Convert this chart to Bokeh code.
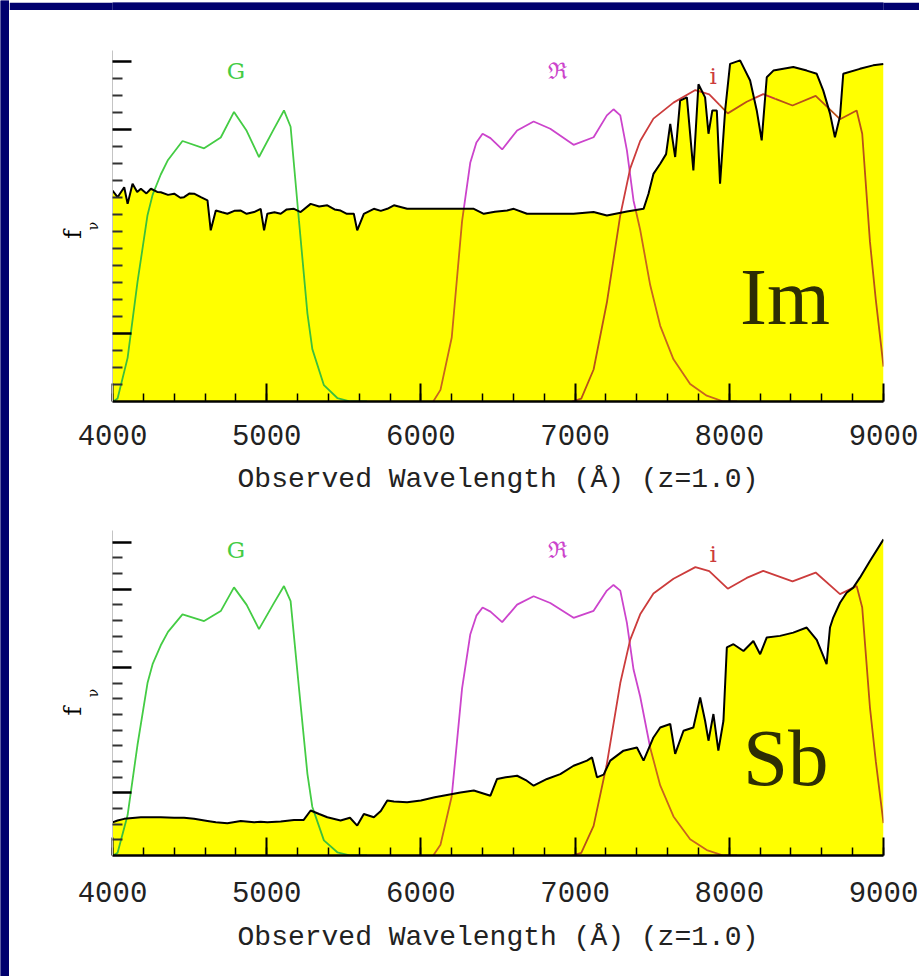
import numpy as np
from bokeh.plotting import figure
from bokeh.models import Range1d, FixedTicker, CustomJSTickFormatter, LinearAxis
from bokeh.layouts import row, column
from bokeh.core.properties import value
from bokeh.embed import file_html
from bokeh.resources import INLINE

# ---------------- data ----------------
X_TICKS = [4000, 5000, 6000, 7000, 8000, 9000]
X_MINOR = list(range(4000, 9001, 200))
X_TITLE = "Observed Wavelength (Å) (z=1.0)"

# filter transmission curves (relative units)
G_LAM = [4005, 4033, 4098, 4162, 4227, 4260, 4313, 4360, 4454, 4594, 4702, 4788, 4870, 4950, 5040, 5112, 5155, 5209, 5264, 5296, 5371, 5458, 5544, 5650]
G_T = [0.0, 0.01, 0.15, 0.41, 0.64, 0.71, 0.78, 0.83, 0.895, 0.87, 0.907, 0.995, 0.93, 0.84, 0.93, 1.0, 0.944, 0.623, 0.303, 0.18, 0.056, 0.012, 0.0, 0.0]

R_LAM = [6080, 6127, 6200, 6267, 6320, 6360, 6400, 6451, 6527, 6624, 6731, 6839, 6990, 7120, 7206, 7249, 7293, 7336, 7379, 7422, 7487, 7552, 7638, 7746, 7854, 7962, 8050]
R_T = [0.0, 0.04, 0.22, 0.62, 0.82, 0.89, 0.92, 0.905, 0.866, 0.931, 0.962, 0.937, 0.882, 0.908, 0.983, 1.004, 0.983, 0.863, 0.69, 0.59, 0.40, 0.26, 0.145, 0.06, 0.02, 0.0, 0.0]

I_LAM = [6980, 7040, 7120, 7206, 7293, 7357, 7422, 7508, 7638, 7780, 7870, 7990, 8113, 8220, 8410, 8560, 8718, 8826, 8862, 8912, 8950, 9000]
I_T = [0.0, 0.01, 0.11, 0.34, 0.64, 0.80, 0.895, 0.972, 1.027, 1.07, 1.055, 0.99, 1.03, 1.056, 1.017, 1.05, 0.97, 1.0, 0.92, 0.55, 0.35, 0.12]

# Im galaxy spectrum (top panel)
IM_LAM = [4000, 4033, 4076, 4098, 4130, 4160, 4184, 4220, 4249, 4290, 4313, 4360, 4400, 4440, 4464, 4500, 4529, 4573, 4616, 4637, 4670, 4710, 4745, 4790, 4832, 4870, 4918, 4961, 4983, 5004, 5050, 5091, 5130, 5177, 5220, 5285, 5340, 5393, 5440, 5479, 5520, 5565, 5587, 5630, 5695, 5740, 5782, 5825, 5911, 6000, 6127, 6343, 6408, 6480, 6559, 6602, 6688, 6850, 6990, 7120, 7206, 7336, 7444, 7476, 7508, 7552, 7590, 7617, 7649, 7681, 7725, 7767, 7800, 7843, 7865, 7890, 7919, 7940, 7973, 8005, 8070, 8135, 8178, 8210, 8243, 8286, 8415, 8502, 8567, 8609, 8653, 8685, 8718, 8739, 8847, 8933, 9000]
IM_F = [0.725, 0.702, 0.736, 0.679, 0.748, 0.72, 0.731, 0.715, 0.731, 0.72, 0.719, 0.71, 0.714, 0.70, 0.702, 0.715, 0.714, 0.702, 0.691, 0.588, 0.656, 0.65, 0.645, 0.655, 0.656, 0.645, 0.651, 0.662, 0.588, 0.645, 0.65, 0.645, 0.66, 0.662, 0.651, 0.679, 0.67, 0.674, 0.66, 0.656, 0.645, 0.645, 0.588, 0.645, 0.662, 0.655, 0.662, 0.674, 0.662, 0.662, 0.662, 0.662, 0.645, 0.652, 0.656, 0.662, 0.645, 0.645, 0.645, 0.651, 0.639, 0.653, 0.662, 0.714, 0.782, 0.817, 0.85, 0.954, 0.84, 1.034, 1.045, 0.794, 1.09, 1.045, 0.92, 1.0, 1.0, 0.748, 1.0, 1.16, 1.172, 1.103, 1.0, 0.897, 1.114, 1.137, 1.149, 1.137, 1.126, 1.069, 0.99, 0.908, 0.98, 1.126, 1.143, 1.155, 1.16]

# Sb galaxy spectrum (bottom panel)
SB_LAM = [4000, 4033, 4076, 4184, 4313, 4400, 4464, 4529, 4616, 4670, 4745, 4832, 4918, 4961, 5004, 5091, 5177, 5240, 5285, 5340, 5393, 5479, 5540, 5587, 5630, 5695, 5740, 5782, 5825, 5911, 6000, 6090, 6257, 6343, 6451, 6494, 6550, 6624, 6680, 6731, 6818, 6904, 6990, 7077, 7110, 7142, 7185, 7228, 7314, 7401, 7444, 7508, 7552, 7617, 7649, 7703, 7767, 7811, 7843, 7865, 7897, 7929, 7962, 7984, 8027, 8092, 8156, 8200, 8243, 8329, 8415, 8502, 8567, 8631, 8653, 8674, 8718, 8761, 8804, 8847, 8912, 9000]
SB_F = [0.123, 0.130, 0.136, 0.142, 0.142, 0.140, 0.14, 0.136, 0.128, 0.123, 0.120, 0.128, 0.123, 0.125, 0.123, 0.126, 0.132, 0.132, 0.167, 0.154, 0.142, 0.13, 0.14, 0.111, 0.154, 0.142, 0.165, 0.204, 0.2, 0.198, 0.204, 0.216, 0.234, 0.241, 0.222, 0.284, 0.29, 0.296, 0.28, 0.259, 0.284, 0.302, 0.333, 0.352, 0.364, 0.29, 0.30, 0.352, 0.389, 0.401, 0.352, 0.438, 0.475, 0.488, 0.377, 0.463, 0.475, 0.586, 0.5, 0.426, 0.525, 0.389, 0.5, 0.772, 0.784, 0.759, 0.796, 0.747, 0.809, 0.815, 0.827, 0.846, 0.8, 0.71, 0.846, 0.883, 0.938, 0.975, 0.994, 1.031, 1.093, 1.173]

# left-axis tick marks (relative flux units)
Y1_MAJOR = [0.234, 0.935, 1.169]
Y1_MINOR = [0.058, 0.117, 0.175, 0.292, 0.351, 0.409, 0.468, 0.526, 0.584, 0.643, 0.701, 0.760, 0.818, 0.877, 0.994, 1.052, 1.110]
Y2_MAJOR = [0.233, 0.698, 0.988, 1.163]
Y2_MINOR = [0.058, 0.116, 0.174, 0.291, 0.349, 0.407, 0.465, 0.523, 0.581, 0.640, 0.756, 0.814, 0.872, 0.930, 1.047, 1.105]

FILTER_LABELS = ["G", "ℜ", "i"]
FILTER_LABEL_LAM = [4800, 6891, 7895]
FILTER_LABEL_Y = [1.135, 1.135, 1.12]

NAVY = "#00006e"
YELLOW = "#ffff00"
COLORS_OVER = ["#44cc44", "#cc44cc", "#cc3c3c"]
COLORS_UNDER = ["#3cbf3c", "#c8641e", "#b8501a"]


def split_runs(flam, ft, slam, sf):
    flam = np.asarray(flam, float)
    ft = np.asarray(ft, float)
    d = ft - np.interp(flam, slam, sf)
    px, py, pd = [flam[0]], [ft[0]], [d[0]]
    for i in range(len(flam) - 1):
        if d[i] * d[i + 1] < 0:
            t = d[i] / (d[i] - d[i + 1])
            px.append(flam[i] + t * (flam[i + 1] - flam[i]))
            py.append(ft[i] + t * (ft[i + 1] - ft[i]))
            pd.append(0.0)
        px.append(flam[i + 1]); py.append(ft[i + 1]); pd.append(d[i + 1])
    runs = {True: ([], []), False: ([], [])}
    cur = None
    rx, ry = [], []
    for j in range(len(px) - 1):
        state = 0.5 * (pd[j] + pd[j + 1]) <= 0
        if state != cur:
            if rx:
                runs[cur][0].append(rx); runs[cur][1].append(ry)
            rx, ry = [px[j]], [py[j]]
            cur = state
        rx.append(px[j + 1]); ry.append(py[j + 1])
    if rx:
        runs[cur][0].append(rx); runs[cur][1].append(ry)
    return runs


def bar(width, height):
    b = figure(width=width, height=height, min_border=0, toolbar_location=None,
               output_backend="svg", x_axis_location=None, y_axis_location=None,
               x_range=Range1d(0, 1), y_range=Range1d(0, 1))
    b.outline_line_color = None
    b.grid.visible = False
    b.background_fill_color = NAVY
    b.border_fill_color = NAVY
    b.quad(left=[0], right=[1], bottom=[0], top=[1], fill_color=NAVY, line_color=None)
    return b


def panel(height, top, bottom, slam, sflux, ymaj, ymin, name, name_xy, f_text, lab_standoff, title_standoff):
    p = figure(width=910, height=height, x_range=Range1d(4000, 9000), y_range=Range1d(0, 1.206),
               min_border_left=103, min_border_right=36, min_border_top=top, min_border_bottom=bottom,
               toolbar_location=None, output_backend="svg")
    p.outline_line_color = None
    p.grid.visible = False
    p.background_fill_color = "white"
    p.border_fill_color = "white"

    p.varea(x=slam, y1=0, y2=sflux, fill_color=YELLOW)

    filters = [(G_LAM, G_T), (R_LAM, R_T), (I_LAM, I_T)]
    for k, (fl, ft) in enumerate(filters):
        runs = split_runs(fl, ft, slam, sflux)
        if runs[False][0]:
            p.multi_line(xs=runs[False][0], ys=runs[False][1], line_color=COLORS_OVER[k], line_width=1.8)
        if runs[True][0]:
            p.multi_line(xs=runs[True][0], ys=runs[True][1], line_color=COLORS_UNDER[k], line_width=1.8)

    p.line(slam, sflux, line_color="black", line_width=2)

    p.text(x=FILTER_LABEL_LAM, y=FILTER_LABEL_Y, text=FILTER_LABELS, text_color=COLORS_OVER,
           text_font=value("DejaVu Serif"), text_font_size="23px", text_align="center",
           text_baseline="middle")

    p.text(x=[name_xy[0]], y=[name_xy[1]], text=[name], text_font=value("Liberation Serif"),
           text_font_size="81px", text_color="#2e2e04", text_align="left", text_baseline="alphabetic")

    xa = p.xaxis[0]
    xa.ticker = FixedTicker(ticks=X_TICKS, minor_ticks=X_MINOR)
    xa.axis_line_width = 2.5
    xa.axis_line_color = "black"
    xa.major_tick_in = 18
    xa.major_tick_out = 0
    xa.minor_tick_in = 8
    xa.minor_tick_out = 0
    xa.major_tick_line_width = 2
    xa.minor_tick_line_width = 1.5
    xa.major_label_text_font = "Liberation Mono"
    xa.major_label_text_font_size = "29px"
    xa.major_label_text_color = "#222222"
    xa.major_label_standoff = lab_standoff
    xa.axis_label = X_TITLE
    xa.axis_label_text_font = "Liberation Mono"
    xa.axis_label_text_font_size = "28px"
    xa.axis_label_text_font_style = "normal"
    xa.axis_label_text_color = "#222222"
    xa.axis_label_standoff = title_standoff

    ya = p.yaxis[0]
    ya.ticker = FixedTicker(ticks=ymaj, minor_ticks=ymin)
    ya.formatter = CustomJSTickFormatter(code="return ''")
    ya.axis_line_color = "#c4c4c4"
    ya.axis_line_width = 1
    ya.major_tick_in = 19
    ya.major_tick_out = 0
    ya.minor_tick_in = 10
    ya.minor_tick_out = 0
    ya.major_tick_line_width = 2.5
    ya.minor_tick_line_width = 2
    ya.major_tick_line_color = "black"
    ya.minor_tick_line_color = "#333333"
    ya.major_label_standoff = 0
    ya.major_label_text_font_size = "1px"
    ya.axis_label = "ν"
    ya.axis_label_text_font = "DejaVu Serif"
    ya.axis_label_text_font_size = "14px"
    ya.axis_label_text_font_style = "normal"
    ya.axis_label_text_color = "black"
    ya.axis_label_standoff = 12

    fa = LinearAxis(ticker=FixedTicker(ticks=[]), formatter=CustomJSTickFormatter(code="return ''"),
                    axis_line_color=None, major_tick_line_color=None, minor_tick_line_color=None,
                    major_label_text_font_size="1px", major_label_standoff=0,
                    major_tick_in=0, major_tick_out=0, minor_tick_in=0, minor_tick_out=0,
                    axis_label=f_text, axis_label_text_font="DejaVu Serif",
                    axis_label_text_font_size="24px", axis_label_text_font_style="normal",
                    axis_label_text_color="black", axis_label_standoff=-5)
    p.add_layout(fa, "left")
    return p


p1 = panel(490, 40, 99, IM_LAM, IM_F, Y1_MAJOR, Y1_MINOR, "Im", (8070, 0.36), "f\u2002\u2009", 23, 16)
p2 = panel(476, 30, 121, SB_LAM, SB_F, Y2_MAJOR, Y2_MINOR, "Sb", (8089, 0.36), "f\u2003\u2002", 26, 17)

left = bar(9, 976)
topbar = bar(910, 10)
layout = row(left, column(topbar, p1, p2, spacing=0), spacing=0)

open("out.html", "w").write(file_html(layout, INLINE))
